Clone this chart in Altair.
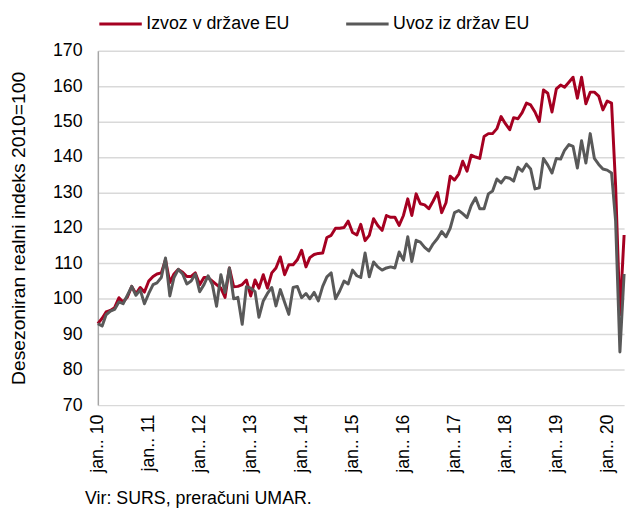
import altair as alt
import pandas as pd

start_month = "2010-01-01"
series_names = ["Izvoz v države EU", "Uvoz iz držav EU"]
series_colors = ["#a50021", "#595959"]
tick_years = list(range(2010, 2021))
source_note = "Vir: SURS, preračuni UMAR."
y_title = "Desezoniran realni indeks 2010=100"

izvoz = [
    93, 94.5, 96.3, 96.7, 97.5, 100.3, 99.1, 100.5, 103.5, 101.4, 103.2, 101.9,
    105, 106.3, 107, 107.3, 111, 104.6, 107, 108.3, 107.5, 106.3, 106.3, 107.3,
    104, 106, 106, 105, 104, 103, 100.4, 108.7, 103.4, 103.5, 104, 105.3,
    100.8, 105.3, 103, 106.8, 103, 107.3, 108.7, 111.8, 106.8, 109.6, 109.6, 111,
    113.7, 109, 111.6, 112.5, 112.8, 112.9, 117.3, 117.9, 119.9, 119.9, 120.1, 121.9,
    118.7, 118, 121, 116.4, 117.9, 122.6, 120.7, 119.3, 123.5, 123, 123, 120.7,
    123.5, 128.2, 123.5, 129.6, 126.8, 126.5, 125.4, 127.6, 130, 124.3, 127.1, 134.6,
    133.5, 135.2, 138.8, 136, 140.5, 140, 139.6, 145.8, 146.6, 146.6, 148, 151.4,
    149.4, 147.7, 151.1, 150.8, 152.5, 155.2, 154.7, 152.7, 150, 158.9, 158, 152.7,
    159.2, 160.3, 159.7, 161.1, 162.5, 156.6, 162.5, 155, 158.3, 158.3, 157.2, 153.3,
    155.8, 155.2, 132, 95.5, 118,
]

uvoz = [
    93, 92.3, 95.5, 96.5, 97, 99.1, 98.6, 101, 103.5, 101, 102.5, 98.6,
    101.5, 104, 104.5, 106, 111.5, 100.8, 106, 108.3, 107, 104.2, 105, 107,
    102, 104, 106.5, 104, 97.9, 106.8, 101.8, 108.7, 100, 100.4, 92.8, 103.4,
    103, 102, 94.8, 99.4, 101.5, 103.2, 98, 102.6, 99, 95.6, 103.2, 103.5,
    100.3, 101.5, 100, 101.8, 99.4, 103.5, 106.2, 107.3, 100, 102.2, 105, 104.2,
    108.1, 106.5, 106, 112.9, 106.2, 110.4, 109, 108.1, 108.7, 109, 108.7, 113.2,
    110.9, 117.5, 110.5, 116.5, 116, 114.5, 113.5, 115.5, 117, 119, 117.5, 119.9,
    124.3, 124.9, 124, 122.9, 126.3, 128.5, 125.4, 125.4, 129.6, 130.4, 133.8, 132.7,
    134.3, 134, 133.2, 137.1, 136, 138, 136.6, 131, 131.3, 139.6, 137.7, 135.5,
    139.6, 139.4, 141.9, 143.5, 143, 136.9, 144.6, 138.3, 146.6, 139.6, 137.9, 136.6,
    136.3, 135.5, 122, 85, 107,
]

dates = pd.date_range(start_month, periods=len(izvoz), freq="MS")
df = pd.concat([
    pd.DataFrame({"date": dates.strftime("%Y-%m-%d"), "value": izvoz, "series": series_names[0], "ord": 0}),
    pd.DataFrame({"date": dates.strftime("%Y-%m-%d"), "value": uvoz, "series": series_names[1], "ord": 1}),
], ignore_index=True)

FONT = "Liberation Sans"
last = dates[-1]

chart = alt.Chart(df, title=alt.TitleParams(
    source_note, orient="bottom", anchor="start", frame="group", fontSize=18, font=FONT,
    fontWeight="normal", color="#000000", offset=18, dx=-13,
)).mark_line(strokeWidth=3, strokeJoin="round").encode(
    x=alt.X("date:T",
            scale=alt.Scale(domain=[alt.DateTime(year=2010, month=1, date=1),
                                    alt.DateTime(year=int(last.year), month=int(last.month), date=1)]),
            axis=alt.Axis(
                values=[alt.DateTime(year=y, month=1, date=1) for y in tick_years],
                labelExpr="'jan.. ' + timeFormat(datum.value, '%y')",
                labelAngle=270, labelAlign="right", labelBaseline="middle",
                labelFontSize=18, labelFont=FONT, labelColor="#000000",
                labelPadding=9, ticks=False, domain=False, grid=False, title=None,
            )),
    y=alt.Y("value:Q",
            scale=alt.Scale(domain=[70, 170], nice=False, zero=False),
            axis=alt.Axis(
                values=list(range(70, 171, 10)), labelFontSize=18, labelFont=FONT,
                labelColor="#000000", labelPadding=16, ticks=False,
                domainColor="#a6a6a6", domainWidth=1.5,
                gridColor="#d9d9d9", gridWidth=1.5,
                title=y_title, titleFontSize=19.5, titleFont=FONT,
                titleFontWeight="normal", titleColor="#000000", titlePadding=24,
            )),
    color=alt.Color("series:N",
                    scale=alt.Scale(domain=series_names, range=series_colors),
                    legend=alt.Legend(
                        orient="none", legendX=0, legendY=-50, direction="horizontal",
                        title=None, symbolType="stroke", symbolStrokeWidth=3,
                        symbolSize=1849, labelFontSize=18, labelFont=FONT,
                        labelColor="#000000", columnPadding=50, labelOffset=3,
                    )),
    order=alt.Order("ord:Q"),
).properties(
    width=533, height=359,
    autosize=alt.AutoSizeParams(type="none"),
    padding={"left": 91, "top": 40, "right": 8, "bottom": 103},
).configure_view(stroke=None)

chart.save("out.html", embed_options={"renderer": "svg", "actions": False})
